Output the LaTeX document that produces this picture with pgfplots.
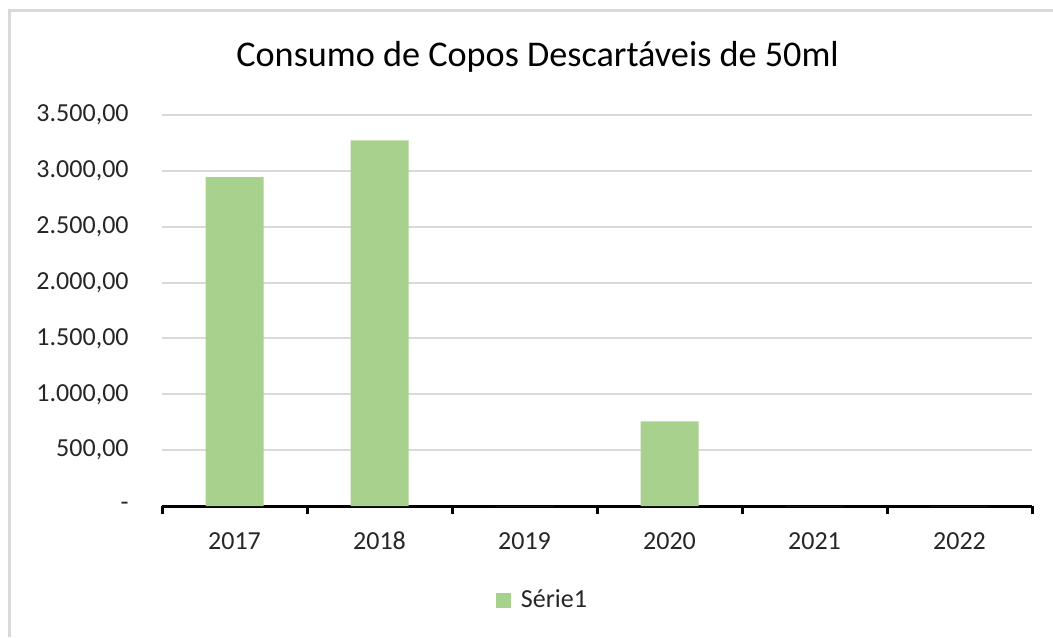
\documentclass[border=0pt]{standalone}
\usepackage{pgfplots}
\pgfplotsset{compat=1.18}
\usepackage{fontspec}
\setmainfont{Carlito}
\definecolor{barcol}{RGB}{169,209,142}
\definecolor{gridcol}{RGB}{217,217,217}
\begin{document}
\begin{tikzpicture}
% 1 px of the reference = 0.5pt
\useasboundingbox (0,0) rectangle (526.5pt,318.5pt);
\draw[gridcol, line width=1.5pt] (4.5pt,0) -- (4.5pt,313pt) -- (527pt,313pt);
\node[anchor=base, inner sep=0pt, font=\fontsize{18.1}{21}\selectfont] at (268.8pt,285.2pt) {Consumo de Copos Descartáveis de 50ml};
\begin{axis}[
  at={(81pt,65.5pt)}, anchor=south west,
  scale only axis, width=435pt, height=195.5pt,
  ybar, bar width=29pt,
  xmin=-0.5, xmax=5.5, ymin=0, ymax=3500,
  % ticks sit on the category borders, the year is shifted to the middle
  xtick={-0.5,0.5,1.5,2.5,3.5,4.5,5.5},
  xticklabels={2017,2018,2019,2020,2021,2022,{}},
  ytick={0,500,1000,1500,2000,2500,3000,3500},
  yticklabels={{-\hspace{10pt}},{500,00},{1.000,00},{1.500,00},{2.000,00},{2.500,00},{3.000,00},{3.500,00}},
  axis x line*=bottom, axis y line*=left,
  x axis line style={-, black, line width=1.5pt},
  y axis line style={draw=none},
  tick align=outside, major tick length=4pt,
  xtick style={draw=black, line width=1.5pt}, ytick style={draw=none},
  ymajorgrids, grid style={gridcol, line width=1pt},
  tick label style={font=\fontsize{13}{15}\selectfont, text=black!85},
  xticklabel style={anchor=base, inner sep=0pt, xshift=36.25pt, yshift=-17.5pt},
  yticklabel style={anchor=east, inner sep=0pt, xshift=-12.5pt},
  legend style={draw=none, fill=none, at={(0.4385,-0.2404)}, anchor=center,
    font=\fontsize{13}{15}\selectfont, text=black!85, inner sep=0pt,
    /tikz/every odd column/.append style={column sep=3pt}},
  legend image code/.code={\fill[barcol] (0pt,-3.75pt) rectangle (7.5pt,3.75pt);},
]
\addplot[fill=barcol, draw=none] coordinates {(0,2945) (1,3273) (2,0) (3,758) (4,0) (5,0)};
\addlegendentry{Série1}
\end{axis}
\end{tikzpicture}
\end{document}
